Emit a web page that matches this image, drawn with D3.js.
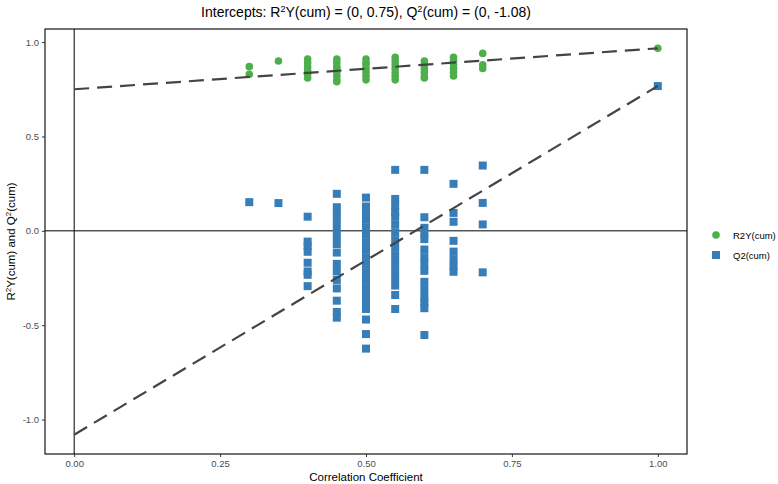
<!DOCTYPE html>
<html>
<head>
<meta charset="utf-8">
<script src="https://cdn.jsdelivr.net/npm/d3@7"></script>
<style>
  body { margin: 0; background: #fff; }
  svg { font-family: "Liberation Sans", Arial, sans-serif; }
</style>
</head>
<body>
<svg width="778" height="484"></svg>
<script>
// permutation test: correlation of permuted y with original y
const corr = [0.3, 0.35, 0.4, 0.45, 0.5, 0.55, 0.6, 0.65, 0.7, 1.0]

// R2Y(cum) values per correlation group
const r2Y = [
  [0.87, 0.83],
  [0.90],
  [0.91, 0.89, 0.87, 0.85, 0.83, 0.81],
  [0.91, 0.89, 0.87, 0.86, 0.84, 0.82, 0.80, 0.79],
  [0.91, 0.89, 0.88, 0.86, 0.84, 0.82, 0.80],
  [0.92, 0.90, 0.88, 0.86, 0.84, 0.82, 0.80],
  [0.90, 0.88, 0.86, 0.84, 0.82, 0.81],
  [0.92, 0.90, 0.88, 0.86, 0.84, 0.82],
  [0.94, 0.88, 0.86],
  [0.967]
]

// Q2(cum) values per correlation group
const q2 = [
  [0.152],
  [0.147],
  [0.075, -0.057, -0.08, -0.111, -0.169, -0.215, -0.233, -0.293],
  [0.196, 0.125, 0.09, 0.05, 0.01, -0.03, -0.07, -0.115, -0.175, -0.215, -0.26, -0.305, -0.37, -0.43, -0.46],
  [0.176, 0.129, 0.095, 0.058, 0.016, -0.02, -0.06, -0.10, -0.14, -0.18, -0.22, -0.26, -0.30, -0.34, -0.38, -0.414, -0.47, -0.547, -0.624],
  [0.323, 0.169, 0.135, 0.10, 0.074, 0.032, -0.01, -0.05, -0.09, -0.13, -0.17, -0.21, -0.25, -0.29, -0.34, -0.414],
  [0.323, 0.072, 0.016, -0.015, -0.044, -0.099, -0.14, -0.175, -0.212, -0.27, -0.31, -0.35, -0.38, -0.41, -0.552],
  [0.249, 0.095, 0.048, -0.053, -0.11, -0.15, -0.185, -0.217],
  [0.346, 0.148, 0.034, -0.22],
  [0.767]
]

const interceptR2 = 0.75
const interceptQ2 = -1.08

const xTicks = [0, 0.25, 0.5, 0.75, 1]
const yTicks = [-1, -0.5, 0, 0.5, 1]
const legendLabels = ["R2Y(cum)", "Q2(cum)"]

const green = "#4DAF4A"
const blue = "#377EB8"

const svg = d3.select("svg")

// panel box
const panel = { left: 45, right: 687, top: 29, bottom: 454 }

// flatten groups into points
const r2Points = corr.flatMap((c, i) => r2Y[i].map(v => ({ x: c, y: v })))
const q2Points = corr.flatMap((c, i) => q2[i].map(v => ({ x: c, y: v })))

const xMin = 0, xMax = d3.max(corr)
const xPad = (xMax - xMin) * 0.05
const x = d3.scaleLinear()
  .domain([xMin - xPad, xMax + xPad])
  .range([panel.left, panel.right])

const yAll = r2Points.concat(q2Points).map(d => d.y).concat([interceptR2, interceptQ2])
const yMin = d3.min(yAll), yMax = d3.max(yAll)
const yPad = (yMax - yMin) * 0.05
const y = d3.scaleLinear()
  .domain([yMin - yPad, yMax + yPad])
  .range([panel.bottom, panel.top])

// zero reference lines
svg.append("line")
  .attr("x1", x(0)).attr("x2", x(0))
  .attr("y1", panel.top).attr("y2", panel.bottom)
  .attr("stroke", "#000").attr("stroke-width", 1)
svg.append("line")
  .attr("x1", panel.left).attr("x2", panel.right)
  .attr("y1", y(0)).attr("y2", y(0))
  .attr("stroke", "#000").attr("stroke-width", 1)

// points
const sq = 8
svg.append("g").selectAll("rect")
  .data(q2Points)
  .join("rect")
  .attr("x", d => x(d.x) - sq / 2)
  .attr("y", d => y(d.y) - sq / 2)
  .attr("width", sq).attr("height", sq)
  .attr("fill", blue)

svg.append("g").selectAll("circle")
  .data(r2Points)
  .join("circle")
  .attr("cx", d => x(d.x))
  .attr("cy", d => y(d.y))
  .attr("r", 3.8)
  .attr("fill", green)

// intercept lines, from x = 0 to the unpermuted model
const lastR2 = r2Y[r2Y.length - 1][0]
const lastQ2 = q2[q2.length - 1][0]
const lines = [[interceptR2, lastR2], [interceptQ2, lastQ2]]
svg.append("g").selectAll("line")
  .data(lines)
  .join("line")
  .attr("x1", x(0)).attr("y1", d => y(d[0]))
  .attr("x2", x(1)).attr("y2", d => y(d[1]))
  .attr("stroke", "#444")
  .attr("stroke-width", 2.2)
  .attr("stroke-dasharray", "15,8")

// panel border
svg.append("rect")
  .attr("x", panel.left).attr("y", panel.top)
  .attr("width", panel.right - panel.left)
  .attr("height", panel.bottom - panel.top)
  .attr("fill", "none")
  .attr("stroke", "#000").attr("stroke-width", 1.1)

// axes
const xAxis = svg.append("g")
  .attr("transform", `translate(0,${panel.bottom})`)
  .call(d3.axisBottom(x).tickValues(xTicks).tickFormat(d => d.toFixed(2)).tickSize(3).tickPadding(3))
const yAxis = svg.append("g")
  .attr("transform", `translate(${panel.left},0)`)
  .call(d3.axisLeft(y).tickValues(yTicks).tickFormat(d => d.toFixed(1)).tickSize(3).tickPadding(3))

svg.selectAll(".domain").remove()
svg.selectAll(".tick line").attr("stroke", "#333")
svg.selectAll(".tick text")
  .attr("fill", "#4D4D4D")
  .attr("font-size", "9.5px")
  .attr("font-family", "Liberation Sans, Arial, sans-serif")

// title
const title = svg.append("text")
  .attr("x", (panel.left + panel.right) / 2)
  .attr("y", 17)
  .attr("text-anchor", "middle")
  .attr("font-size", "14px")
  .attr("fill", "#000")
title.append("tspan").text("Intercepts: R")
title.append("tspan").attr("dy", -5).attr("font-size", "9px").text("2")
title.append("tspan").attr("dy", 5).text(`Y(cum) = (0, ${interceptR2}), Q`)
title.append("tspan").attr("dy", -5).attr("font-size", "9px").text("2")
title.append("tspan").attr("dy", 5).text(`(cum) = (0, ${interceptQ2})`)

// axis titles
svg.append("text")
  .attr("x", (panel.left + panel.right) / 2)
  .attr("y", 481)
  .attr("text-anchor", "middle")
  .attr("font-size", "11.5px")
  .text("Correlation Coefficient")

const yTitle = svg.append("text")
  .attr("transform", `translate(15,${(panel.top + panel.bottom) / 2}) rotate(-90)`)
  .attr("text-anchor", "middle")
  .attr("font-size", "11.5px")
yTitle.append("tspan").text("R")
yTitle.append("tspan").attr("dy", -4).attr("font-size", "8px").text("2")
yTitle.append("tspan").attr("dy", 4).text("Y(cum) and Q")
yTitle.append("tspan").attr("dy", -4).attr("font-size", "8px").text("2")
yTitle.append("tspan").attr("dy", 4).text("(cum)")

// legend
const legend = svg.append("g").attr("transform", "translate(716,235)")
legend.append("circle").attr("cx", 0).attr("cy", 0).attr("r", 3.8).attr("fill", green)
legend.append("rect").attr("x", -sq / 2).attr("y", 20 - sq / 2).attr("width", sq).attr("height", sq).attr("fill", blue)
legend.selectAll("text")
  .data(legendLabels)
  .join("text")
  .attr("x", 17)
  .attr("y", (d, i) => i * 20 + 3.5)
  .attr("font-size", "9.5px")
  .attr("fill", "#000")
  .text(d => d)
</script>
</body>
</html>
